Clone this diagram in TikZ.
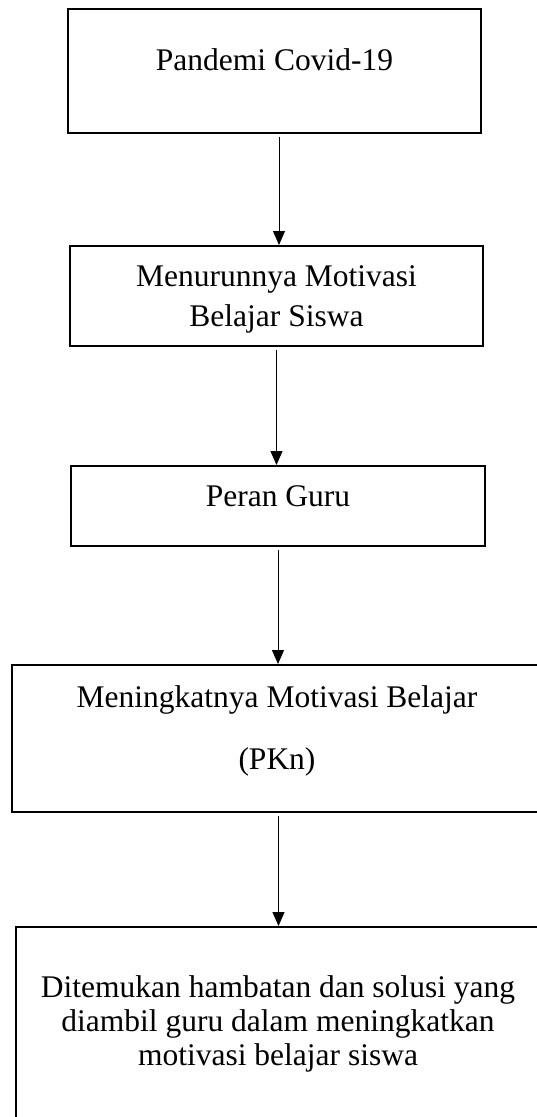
\documentclass[tikz,border=0pt]{standalone}
\usepackage{fontspec}
\setmainfont{Liberation Serif}
\usetikzlibrary{arrows.meta, positioning}

\tikzset{
    flowbox/.style={draw, line width=2pt, inner sep=0pt},
    flowtext/.style={inner sep=0pt, align=center, font=\fontsize{31.5}{40}\selectfont},
    flowarrow/.style={-{Triangle[width=12pt,length=14pt]}, line width=1pt, shorten <=3pt},
}

\begin{document}
\begin{tikzpicture}[x=1pt, y=-1pt]
    \clip (0,0) rectangle (537,1117);
    % boxes
    \node[flowbox, minimum width=413pt, minimum height=124pt] (covid) at (274.5,71) {};
    \node[flowbox, minimum width=413pt, minimum height=100pt] (turun) at (276.5,296) {};
    \node[flowbox, minimum width=414pt, minimum height=80pt] (guru) at (278,506) {};
    \node[flowbox, minimum width=533pt, minimum height=147pt] (naik) at (278.5,738.5) {};
    \node[flowbox, minimum width=529pt, minimum height=200pt] (solusi) at (280.5,1027) {};
    % texts
    \node[flowtext, below=40.5pt of covid.north] (covidtxt) {Pandemi Covid-19};
    \node[flowtext, below=20pt of turun.north] (turuntxt) {Menurunnya Motivasi\\Belajar Siswa};
    \node[flowtext, below=20pt of guru.north] (gurutxt) {Peran Guru};
    \node[flowtext, below=21.5pt of naik.north, xshift=-1.5pt] (naiktxt) {Meningkatnya Motivasi Belajar\\[22pt](PKn)};
    \node[flowtext, below=49.5pt of solusi.north, xshift=-2.5pt,
          font=\fontsize{31.5}{34}\selectfont] (solusitxt)
          {Ditemukan hambatan dan solusi yang\\diambil guru dalam meningkatkan\\motivasi belajar siswa};
    % arrows
    \draw[flowarrow] ([xshift=4.5pt]covid.south) -- ([xshift=4.5pt]covid.south |- turun.north);
    \draw[flowarrow] (turun.south) -- (turun.south |- guru.north);
    \draw[flowarrow] (guru.south) -- (guru.south |- naik.north);
    \draw[flowarrow] (naik.south) -- (naik.south |- solusi.north);
\end{tikzpicture}
\end{document}
